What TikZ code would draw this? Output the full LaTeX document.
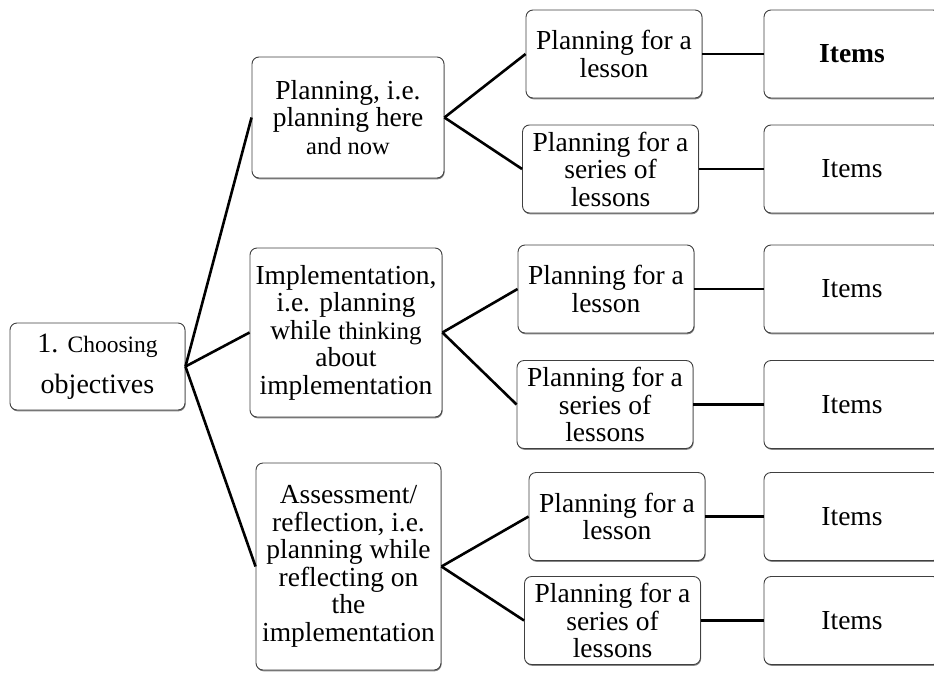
\documentclass[tikz,border=0pt]{standalone}
\usepackage{fontspec}
\setmainfont{Liberation Serif}
\usetikzlibrary{shadows}
\begin{document}
\begin{tikzpicture}[x=1pt,y=-1pt,
  box/.style={draw=black!75, line width=0.9pt, rounded corners=7pt, fill=white,
    align=center, inner sep=0pt,
    drop shadow={shadow xshift=0.6pt, shadow yshift=-1.3pt, fill=black!60, opacity=0.8},
    font=\fontsize{27.5}{27.5}\selectfont},
  small/.style={minimum width=176pt, minimum height=88pt},
  link/.style={line width=2.6pt, black}]
\useasboundingbox (0,0) rectangle (934,672);
\clip (0,0) rectangle (934,672);
% root
\node[box, minimum width=175pt, minimum height=87pt, font=\fontsize{28}{41}\selectfont] (root) at (97.5,366.5)
  {1. {\fontsize{23.5}{41}\selectfont Choosing}\\objectives};
% level 1
\node[box, minimum width=192pt, minimum height=121pt] (pa) at (348,117.5)
  {Planning, i.e.\\planning here\\{\fontsize{24.5}{27.5}\selectfont and now}};
\node[box, minimum width=192pt, minimum height=169pt] (pb) at (346,332.5)
  {Implementation,\\i.e. planning\\while {\fontsize{25}{27.5}\selectfont thinking}\\about\\implementation};
\node[box, minimum width=185pt, minimum height=207pt] (pc) at (348.5,566.5)
  {Assessment/\\reflection, i.e.\\planning while\\reflecting on\\the\\implementation};
% level 2
\node[box, small] (la) at (614,54) {Planning for a\\lesson};
\node[box, small] (sa) at (610.5,169) {Planning for a\\series of\\lessons};
\node[box, small] (lb) at (606,289) {Planning for a\\lesson};
\node[box, small] (sb) at (605,404.5) {Planning for a\\series of\\lessons};
\node[box, small] (lc) at (617,516.5) {Planning for a\\lesson};
\node[box, small] (sc) at (612.5,620.5) {Planning for a\\series of\\lessons};
% level 3
\node[box, small] (ia) at (852,54) {\textbf{Items}};
\node[box, small] (ib) at (852,169) {Items};
\node[box, small] (ic) at (852,289) {Items};
\node[box, small] (id) at (852,404.5) {Items};
\node[box, small] (ie) at (852,516.5) {Items};
\node[box, small] (if) at (852,620.5) {Items};
% connectors
\draw[link] (root.east) -- (pa.west);
\draw[link] (root.east) -- (pb.west);
\draw[link] (root.east) -- (pc.west);
\draw[link] (pa.east) -- (la.west);
\draw[link] (pa.east) -- (sa.west);
\draw[link] (pb.east) -- (lb.west);
\draw[link] (pb.east) -- (sb.west);
\draw[link] (pc.east) -- (lc.west);
\draw[link] (pc.east) -- (sc.west);
\draw[link] (la.east) -- (ia.west);
\draw[link] (sa.east) -- (ib.west);
\draw[link] (lb.east) -- (ic.west);
\draw[link] (sb.east) -- (id.west);
\draw[link] (lc.east) -- (ie.west);
\draw[link] (sc.east) -- (if.west);
\end{tikzpicture}
\end{document}
